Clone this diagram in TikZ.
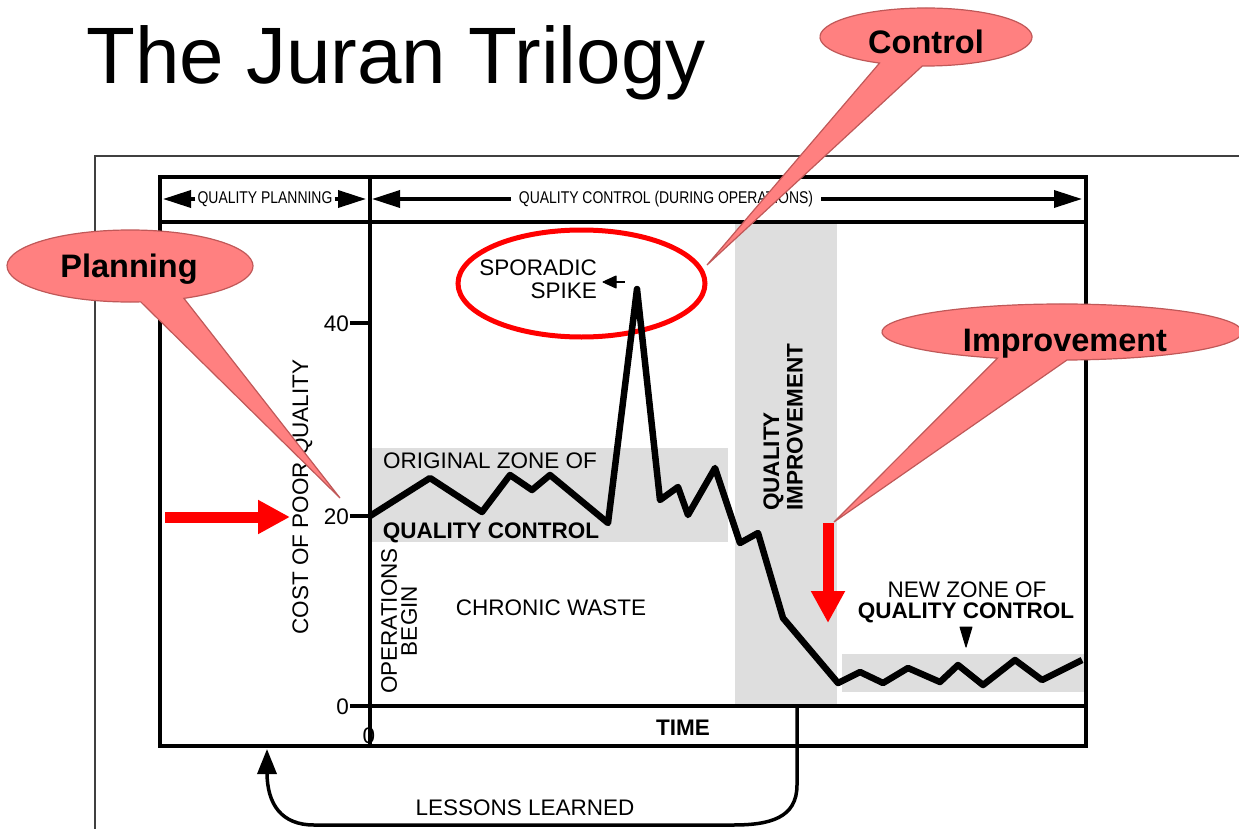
\documentclass[tikz,border=0pt]{standalone}
\usepackage{fontspec}
\setmainfont{Liberation Sans}
\newfontfamily\narrowsans{Liberation Sans}[FakeStretch=0.82]
\usetikzlibrary{arrows.meta}
\definecolor{zonegrey}{HTML}{DEDEDE}
\definecolor{calloutpink}{HTML}{FF8080}
\definecolor{calloutedge}{HTML}{C05858}
\definecolor{framegrey}{HTML}{404040}
\newcommand\chartfont{\fontsize{22.5pt}{23pt}\selectfont}

\begin{document}
\begin{tikzpicture}[x=1pt,y=-1pt,
  lbl/.style={font=\chartfont, inner sep=0pt},
  lblb/.style={font=\chartfont\bfseries, inner sep=0pt},
  hdr/.style={font=\narrowsans\fontsize{17pt}{17pt}\selectfont, inner ysep=0pt},
  boxline/.style={line width=3.5pt},
  axisline/.style={line width=4pt},
  zone/.style={fill=zonegrey},
  hdrarrow/.style={line width=3.5pt, -{Triangle[length=28pt,width=17pt]}},
  pointer/.style={fill=black, draw=black, line width=1pt, line join=round},
  datacurve/.style={line width=6.5pt, line join=round},
  redarrow/.style={red, line width=11pt, -{Triangle[length=32pt,width=32pt]}},
  callout/.style={fill=calloutpink, draw=calloutedge, line width=1.2pt},
  calltext/.style={font=\fontsize{32.5pt}{32.5pt}\selectfont\bfseries, inner sep=0pt},
]
\useasboundingbox (0,0) rectangle (1239,829);

% title
\node[anchor=base west, font=\fontsize{80pt}{80pt}\selectfont, inner sep=0pt] (title) at (86,84) {The Juran Trilogy};

% thin slide frame
\draw[framegrey, line width=1.3pt] (95,829) -- (95,156) -- (1239,156);

% grey zones
\fill[zonegrey] (370,448) rectangle (728,542);
\fill[zonegrey] (735,224) rectangle (837,706);
\fill[zonegrey] (842,654) rectangle (1085,692);

% chart box, header row and axes
\draw[boxline] (160,177) rectangle (1086,746);
\draw[boxline] (160,222) -- (1086,222);
\draw[axisline] (370,177) -- (370,746);
\draw[axisline] (350,706) -- (1086,706);
\foreach \yy in {323,516} \draw[axisline] (350,\yy) -- (370,\yy);

% header labels and arrows
\node[hdr, inner xsep=2pt] (qp) at (265,199) {QUALITY PLANNING};
\coordinate (qpl) at (163,199);
\coordinate (qpr) at (366,199);
\draw[hdrarrow] (qp.west) -- (qpl);
\draw[hdrarrow] (qp.east) -- (qpr);
\node[hdr, inner xsep=8pt] (qc) at (666,199) {QUALITY CONTROL (DURING OPERATIONS)};
\coordinate (qcl) at (372,199);
\coordinate (qcr) at (1082,199);
\draw[hdrarrow] (qc.west) -- (qcl);
\draw[hdrarrow] (qc.east) -- (qcr);

% axis labels
\node[lbl, anchor=base east] (y40) at (349,331) {40};
\node[lbl, anchor=base east] (y20) at (349,524) {20};
\node[lbl, anchor=base east] (y0) at (349,714) {0};
\node[lbl, anchor=base] (x0) at (369,743) {0};
\node[lblb, anchor=base] (time) at (683,735) {TIME};
\node[lbl, anchor=base, rotate=90] (ylab) at (308,497) {COST OF POOR QUALITY};

% zone and phase labels
\node[lbl, anchor=base] (oz1) at (490,468) {ORIGINAL ZONE OF};
\node[lblb, anchor=base] (oz2) at (491,538) {QUALITY CONTROL};
\node[lbl, align=center, rotate=90, font=\fontsize{22.5pt}{20pt}\selectfont] (ops) at (399,621) {OPERATIONS\\BEGIN};
\node[lbl, anchor=base] (chronic) at (551,615) {CHRONIC WASTE};
\node[lblb, align=left, rotate=90, anchor=west, font=\fontsize{22.5pt}{23.5pt}\selectfont\bfseries] (qi) at (783,511) {QUALITY\\IMPROVEMENT};
\node[lbl, anchor=base] (nz1) at (967,597) {NEW ZONE OF};
\node[lblb, anchor=base] (nz2) at (966,618) {QUALITY CONTROL};
% pointer under the new zone label
\draw[pointer] (960,627) -- (972,627) -- (966,647) -- cycle;

% sporadic spike label and its pointer
\node[lbl, anchor=base east] (sp1) at (597,275) {SPORADIC};
\node[lbl, anchor=base east] (sp2) at (597,298) {SPIKE};
\draw[pointer] (603,282) -- (616,276) -- (616,288) -- cycle;
\draw[line width=2.5pt] (615,282) -- (625,282);
\draw[red, line width=5pt] (581.5,283.5) ellipse[x radius=123.5, y radius=53.5];

% cost of poor quality over time
\draw[datacurve] (370,516) -- (430,478) -- (482,512) -- (510,475) -- (532,490)
  -- (550,475) -- (608,523) -- (637,289) -- (660,500) -- (678,487) -- (688,515)
  -- (715,468) -- (740,543) -- (758,533) -- (783,618) -- (838,683) -- (860,672)
  -- (883,683) -- (908,668) -- (940,682) -- (958,665) -- (983,685) -- (1015,660)
  -- (1042,680) -- (1082,660);

% lessons learned feedback
\coordinate (ll0) at (797,706);
\coordinate (ll1) at (267,749);
\draw[line width=3.5pt, -{Triangle[length=25pt,width=19pt]}] (ll0) -- (797,785)
  .. controls (797,818) and (770,825) .. (733,825) -- (314,825)
  .. controls (282,825) and (267,805) .. (267,772) -- (ll1);
\node[lbl, anchor=base] (lessons) at (525,815) {LESSONS LEARNED};

% red pointers
\coordinate (pa0) at (165,517);
\coordinate (pa1) at (290,517);
\draw[redarrow] (pa0) -- (pa1);
\coordinate (ia0) at (828,523);
\coordinate (ia1) at (828,623);
\draw[redarrow] (ia0) -- (ia1);

% callouts
\path[callout] (926,37) ++(116:106 and 29)
  arc[start angle=116, end angle=452, x radius=106, y radius=29] -- (707,265) -- cycle;
\node[calltext, anchor=base] (control) at (926,54) {Control};

\path[callout] (130,266) ++(85:123 and 36)
  arc[start angle=85, end angle=424, x radius=123, y radius=36] -- (340,498) -- cycle;
\node[calltext, anchor=base] (planning) at (129,277) {Planning};

\path[callout] (1062,332) ++(111:180 and 28)
  arc[start angle=111, end angle=448.4, x radius=180, y radius=28] -- (834,522) -- cycle;
\node[calltext, anchor=base] (improvement) at (1065,351) {Improvement};
\end{tikzpicture}
\end{document}
